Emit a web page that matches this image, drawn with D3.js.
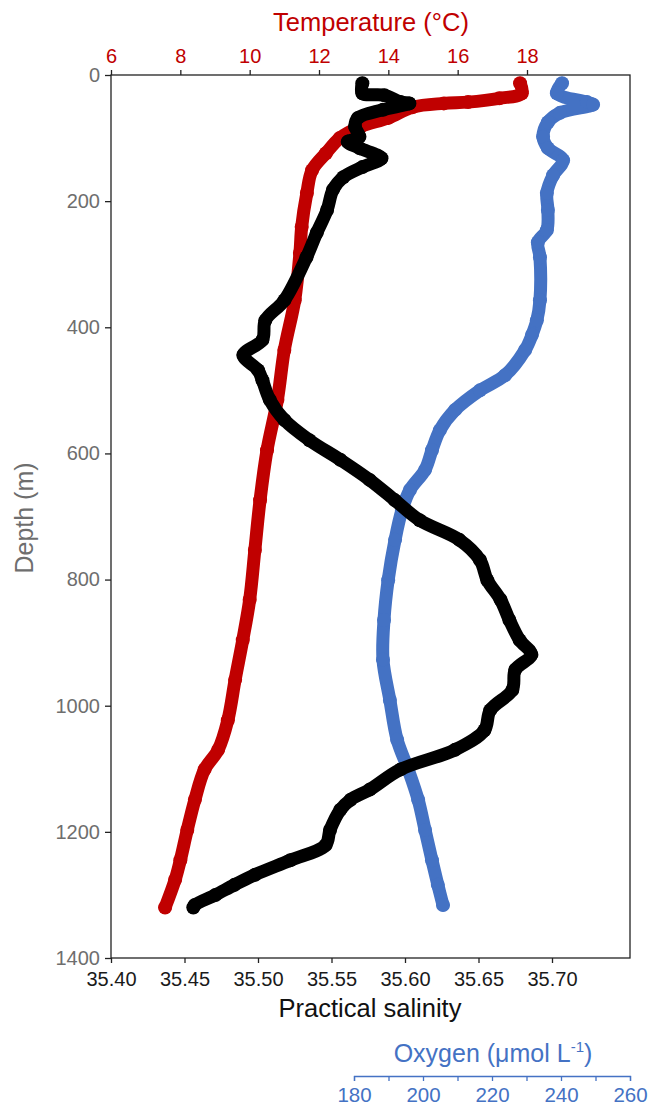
<!DOCTYPE html>
<html><head><meta charset="utf-8">
<script src="https://cdn.jsdelivr.net/npm/d3@7"></script>
<style>
body{margin:0;background:#fff;}
svg{font-family:"Liberation Sans",Arial,sans-serif;}
</style></head>
<body>
<svg id="c" width="650" height="1110"></svg>
<script>
// ---- data (depth in m) ----
const salDepth = [13,29,32,43,45,55,68,82,98,106,116,132,146,162,182,214,250,289,357,389,420,444,468,484,515,547,579,610,642,674,706,737,769,801,832,864,896,919,943,975,1007,1039,1070,1101,1133,1149,1165,1197,1221,1245,1268,1284,1300,1316,1320];
const salinity = [35.571,35.571,35.586,35.597,35.603,35.585,35.568,35.566,35.569,35.561,35.569,35.584,35.571,35.558,35.551,35.547,35.540,35.533,35.518,35.505,35.503,35.490,35.500,35.503,35.508,35.518,35.535,35.556,35.576,35.593,35.610,35.637,35.651,35.656,35.665,35.671,35.678,35.686,35.675,35.673,35.658,35.654,35.634,35.597,35.576,35.563,35.556,35.549,35.546,35.522,35.498,35.484,35.471,35.457,35.456];

const tempDepth = [13,29,37,43,45,51,68,82,100,124,151,187,241,282,357,436,515,595,674,753,832,896,959,1023,1070,1101,1149,1197,1245,1276,1320];
const temperature = [17.8,17.85,17.2,16.3,15.6,14.7,14.0,13.2,12.6,12.2,11.8,11.65,11.5,11.45,11.3,11.0,10.8,10.5,10.3,10.15,10.0,9.8,9.58,9.37,9.09,8.7,8.42,8.2,8.0,7.85,7.56];

const oxyDepth = [13,29,43,47,60,75,98,116,135,159,187,214,246,265,289,357,389,412,436,476,500,531,563,595,626,658,690,737,801,864,927,991,1054,1101,1149,1197,1245,1284,1316];
const oxygen = [240.3,238.8,247.5,249.3,239.7,236.2,234.8,236.2,240.6,237.7,235.9,236.2,235.9,233.3,233.9,233.9,233.0,231.6,229.6,223.8,216.5,209.3,204.9,202.6,200.6,196.2,193.9,191.9,189.9,188.7,188.4,190.4,192.5,195.7,198.6,200.6,202.6,204.3,205.8];

const depthTicks = [0,200,400,600,800,1000,1200,1400];
const salTicks = [35.40,35.45,35.50,35.55,35.60,35.65,35.70];
const tempTicks = [6,8,10,12,14,16,18];
const oxyTicks = [180,190,200,210,220,230,240,250,260];
const oxyLabelTicks = [180,200,220,240,260];

// ---- layout ----
const L=111, R=630, T=75, B=958;
const RED="#c00000", BLUE="#4472c4", GREY="#6e6e6e";
const svg = d3.select("#c");

const y = d3.scaleLinear().domain([0,1400]).range([T,B]);
const xSal = d3.scaleLinear().domain([35.40,35.70]).range([L,552]);
const xTemp = d3.scaleLinear().domain([6,18]).range([L,527]);
const xOxy = d3.scaleLinear().domain([180,260]).range([354,630]);

// ---- series ----
function series(depths, vals, xs, color){
  const pts = depths.map((d,i)=>[xs(vals[i]), y(d)]);
  const g = svg.append("g");
  g.append("path").attr("d", d3.line().curve(d3.curveCatmullRom.alpha(0.5))(pts))
    .attr("fill","none").attr("stroke",color).attr("stroke-width",13)
    .attr("stroke-linejoin","round").attr("stroke-linecap","round");
  g.selectAll("circle").data(pts).join("circle")
    .attr("cx",p=>p[0]).attr("cy",p=>p[1]).attr("r",7).attr("fill",color);
}
series(tempDepth, temperature, xTemp, RED);
series(oxyDepth, oxygen, xOxy, BLUE);
series(salDepth, salinity, xSal, "#000");

// ---- frame ----
svg.append("rect").attr("x",L).attr("y",T).attr("width",R-L).attr("height",B-T)
  .attr("fill","none").attr("stroke","#222").attr("stroke-width",1.3);

// left axis
const ax = svg.append("g").attr("transform",`translate(${L},0)`)
  .call(d3.axisLeft(y).tickValues(depthTicks).tickFormat(d3.format("d")).tickSize(6).tickPadding(5));
ax.select(".domain").remove();
ax.selectAll("line").attr("stroke","#222").attr("stroke-width",1.3);
ax.selectAll("text").attr("fill",GREY).style("font-size","20px");

// top axis (temperature)
const at = svg.append("g").attr("transform",`translate(0,${T})`)
  .call(d3.axisTop(xTemp).tickValues(tempTicks).tickSize(5).tickPadding(7));
at.select(".domain").remove();
at.selectAll("line").attr("stroke","#222").attr("stroke-width",1.3);
at.selectAll("text").attr("fill",RED).style("font-size","20px");

// bottom axis (salinity)
const ab = svg.append("g").attr("transform",`translate(0,${B})`)
  .call(d3.axisBottom(xSal).tickValues(salTicks).tickFormat(d3.format(".2f")).tickSize(5).tickPadding(9));
ab.select(".domain").remove();
ab.selectAll("line").attr("stroke","#222").attr("stroke-width",1.3);
ab.selectAll("text").attr("fill","#1a1a1a").style("font-size","20px");

// oxygen axis
const OY = 1076;
const ao = svg.append("g").attr("transform",`translate(0,${OY})`)
  .call(d3.axisBottom(xOxy).tickValues(oxyTicks).tickSize(5).tickPadding(6)
    .tickFormat(d=>oxyLabelTicks.includes(d)?d:""));
ao.select(".domain").attr("stroke",BLUE).attr("stroke-width",1.3);
ao.selectAll("line").attr("stroke",BLUE).attr("stroke-width",1.3);
ao.selectAll("text").attr("fill",BLUE).style("font-size","20.5px");

// titles
svg.append("text").attr("x",371).attr("y",31).attr("text-anchor","middle")
  .attr("fill",RED).style("font-size","25.5px").text("Temperature (°C)");
svg.append("text").attr("x",370).attr("y",1017).attr("text-anchor","middle")
  .attr("fill","#111").style("font-size","25.5px").text("Practical salinity");
svg.append("text").attr("transform","translate(33,518) rotate(-90)").attr("text-anchor","middle")
  .attr("fill",GREY).style("font-size","25px").text("Depth (m)");
const ot = svg.append("text").attr("x",493).attr("y",1062).attr("text-anchor","middle")
  .attr("fill",BLUE).style("font-size","25px");
ot.append("tspan").text("Oxygen (μmol L");
ot.append("tspan").attr("dy",-10).style("font-size","15px").text("-1");
ot.append("tspan").attr("dy",10).text(")");
</script>
</body></html>
